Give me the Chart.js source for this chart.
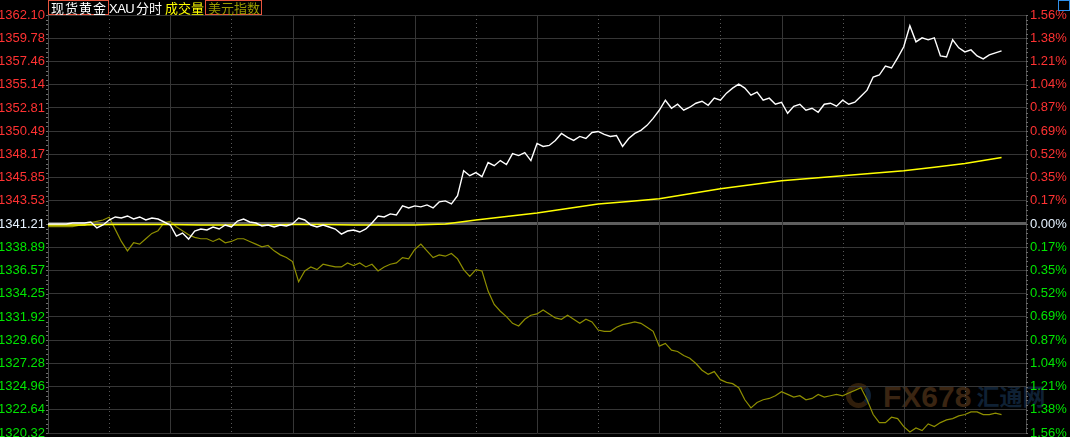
<!DOCTYPE html>
<html>
<head>
<meta charset="utf-8">
<script src="https://cdn.jsdelivr.net/npm/chart.js@4/dist/chart.umd.min.js"></script>
<style>
html,body{margin:0;padding:0;background:#000;}
#wrap{position:relative;width:1070px;height:437px;overflow:hidden;background:#000;}
#c{position:absolute;left:0;top:0;z-index:1;}
.hd{position:absolute;top:0;height:15px;line-height:15px;font-size:13px;font-family:"Noto Sans CJK SC",sans-serif;white-space:nowrap;z-index:2;}
.box{box-sizing:border-box;border:1px solid #e8553e;padding:0 0 0 2px;line-height:13px;}
#wm{position:absolute;left:846px;top:378px;z-index:0;white-space:nowrap;opacity:0.75;}
#wm .fx{font:bold 30px "Liberation Sans Narrow","Liberation Sans",sans-serif;color:#4e3218;}
#wm .cn{font:bold 23px "Noto Sans CJK SC",sans-serif;color:#152c46;margin-left:5px;vertical-align:2px;}
#wm .logo{display:inline-block;width:25px;height:25px;border-radius:50%;border:5px solid #40290f;border-right-color:#152c46;box-sizing:border-box;margin-right:12px;vertical-align:-1px;}
#ico{position:absolute;left:1058px;top:0;width:12px;height:11px;box-sizing:border-box;border:1px solid #2f8fe8;z-index:2;}
</style>
</head>
<body>
<div id="wrap">
  <div id="wm"><span class="logo"></span><span class="fx">FX678</span><span class="cn">汇通网</span></div>
  <canvas id="c" width="1070" height="437"></canvas>
  <div class="hd box" style="left:48px;width:61px;color:#fff;letter-spacing:1px;">现货黄金</div>
  <div class="hd" style="left:109px;top:1px;color:#fff;font-family:'Liberation Sans',sans-serif;letter-spacing:-0.5px;">XAU</div>
  <div class="hd" style="left:136px;color:#fff;">分时</div>
  <div class="hd" style="left:165px;color:#ffff00;">成交量</div>
  <div class="hd box" style="left:205px;width:57px;color:#9a9a00;">美元指数</div>
  <div id="ico"></div>
</div>
<script>
// axis labels, as printed
const priceTicks = ['1362.10','1359.78','1357.46','1355.14','1352.81','1350.49','1348.17','1345.85','1343.53',
  '1341.21','1338.89','1336.57','1334.25','1331.92','1329.60','1327.28','1324.96','1322.64','1320.32'];
const pctTicks = ['1.56%','1.38%','1.21%','1.04%','0.87%','0.69%','0.52%','0.35%','0.17%',
  '0.00%','0.17%','0.35%','0.52%','0.69%','0.87%','1.04%','1.21%','1.38%','1.56%'];
const BASE = 1341.21;
const SLOTS = 160;   // minute slots across the session (one slot ~ 6px)

// spot gold, one value per slot
const goldPrice = [
  1341.21,1341.21,1341.21,1341.21,1341.31,1341.31,1341.31,1341.41,1340.81,1341.11,
  1341.61,1341.91,1341.81,1342.01,1341.71,1341.91,1341.61,1341.81,1341.71,1341.41,
  1341.11,1340.00,1340.30,1339.70,1340.51,1340.71,1340.61,1340.91,1340.71,1341.11,
  1340.91,1341.51,1341.71,1341.41,1341.31,1341.01,1341.11,1340.91,1341.11,1341.01,
  1341.21,1341.81,1341.61,1341.11,1340.91,1341.11,1340.91,1340.71,1340.20,1340.51,
  1340.61,1340.41,1340.71,1341.31,1342.01,1341.91,1342.22,1342.12,1343.02,1342.82,
  1343.02,1342.92,1343.12,1342.82,1343.42,1343.52,1343.22,1344.03,1346.54,1346.04,
  1346.34,1345.94,1347.35,1347.04,1347.55,1347.15,1348.25,1348.05,1348.35,1347.55,
  1349.26,1348.96,1349.06,1349.56,1350.26,1349.86,1349.56,1349.96,1349.76,1350.36,
  1350.46,1350.16,1349.96,1350.06,1348.96,1349.76,1350.26,1350.57,1351.07,1351.77,
  1352.58,1353.58,1352.78,1353.18,1352.58,1352.88,1353.28,1353.48,1353.08,1353.79,
  1353.58,1354.29,1354.79,1355.19,1354.79,1354.09,1354.39,1353.58,1353.79,1353.18,
  1353.38,1352.28,1352.98,1353.18,1352.58,1352.78,1352.38,1353.18,1353.28,1352.98,
  1353.58,1353.18,1353.38,1353.99,1354.59,1355.90,1356.10,1357.00,1356.80,1357.81,
  1358.92,1361.03,1359.42,1359.82,1359.62,1359.82,1358.01,1357.91,1359.62,1358.82,
  1358.41,1358.61,1358.01,1357.71,1358.11,1358.31,1358.51
];

// average price line
const avgSlot = [0,5,10,15,20,25,30,35,40,45,50,55,60,65,70,75,80,85,90,95,100,105,110,115,120,125,130,135,140,145,150,156];
const avgPrice = [1341.11,1341.11,1341.16,1341.16,1341.16,1341.11,1341.11,1341.11,1341.16,1341.16,
  1341.11,1341.11,1341.11,1341.21,1341.61,1341.96,1342.32,1342.77,1343.22,1343.47,
  1343.73,1344.23,1344.73,1345.13,1345.54,1345.79,1346.04,1346.29,1346.54,1346.89,1347.25,1347.85];

// US dollar index, % change, one value per slot
const usdPct = [
  -0.02,-0.02,-0.02,-0.02,-0.02,-0.01,-0.01,0.01,0.02,0.03,
  0.05,-0.04,-0.13,-0.20,-0.14,-0.15,-0.11,-0.07,-0.05,0.01,
  0.02,-0.02,-0.05,-0.08,-0.10,-0.11,-0.11,-0.13,-0.11,-0.14,
  -0.13,-0.11,-0.11,-0.13,-0.15,-0.17,-0.16,-0.20,-0.23,-0.25,
  -0.28,-0.43,-0.35,-0.32,-0.34,-0.30,-0.31,-0.32,-0.32,-0.29,
  -0.31,-0.29,-0.32,-0.30,-0.35,-0.32,-0.30,-0.29,-0.25,-0.26,
  -0.19,-0.15,-0.20,-0.25,-0.23,-0.24,-0.22,-0.26,-0.34,-0.39,
  -0.34,-0.35,-0.50,-0.60,-0.65,-0.69,-0.74,-0.76,-0.71,-0.68,
  -0.67,-0.64,-0.67,-0.70,-0.71,-0.68,-0.71,-0.74,-0.71,-0.73,
  -0.79,-0.80,-0.80,-0.77,-0.75,-0.74,-0.73,-0.74,-0.77,-0.80,
  -0.91,-0.89,-0.94,-0.95,-0.98,-1.00,-1.04,-1.09,-1.12,-1.10,
  -1.16,-1.18,-1.19,-1.22,-1.31,-1.37,-1.33,-1.31,-1.30,-1.28,
  -1.25,-1.27,-1.29,-1.28,-1.31,-1.30,-1.27,-1.29,-1.28,-1.27,
  -1.28,-1.26,-1.24,-1.22,-1.31,-1.42,-1.48,-1.48,-1.44,-1.45,
  -1.51,-1.55,-1.52,-1.54,-1.49,-1.51,-1.48,-1.46,-1.45,-1.43,
  -1.42,-1.40,-1.40,-1.42,-1.42,-1.41,-1.42
];

const PMAX = +priceTicks[0], PMIN = +priceTicks[priceTicks.length-1];
const PCT_MAX = (PMAX - BASE) / BASE * 100;
const MID = 9;
const RED = '#ff3232', GREEN = '#00e600', WHITE = '#e6f2ff';
const lblColor = ctx => ctx.index < MID ? RED : (ctx.index === MID ? WHITE : GREEN);

// vertical grid (solid / dotted alternating) + small minor ticks on the axes
const gridPlugin = {
  id: 'quoteGrid',
  beforeDatasetsDraw(chart){
    const {ctx, chartArea: a, scales} = chart;
    ctx.save();
    ctx.lineWidth = 1;
    for(let s = 10; s < SLOTS; s += 10){
      const x = Math.round(scales.x.getPixelForValue(s)) + 0.5;
      ctx.beginPath();
      if(s % 20 === 0){ ctx.setLineDash([]); ctx.strokeStyle = '#363636'; }
      else { ctx.setLineDash([1,3]); ctx.strokeStyle = '#5a5a5a'; }
      ctx.moveTo(x, a.top); ctx.lineTo(x, a.bottom); ctx.stroke();
    }
    ctx.setLineDash([]);
    ctx.strokeStyle = '#707070';
    const step = (a.bottom - a.top) / (priceTicks.length - 1) / 5;
    for(let y = a.top; y <= a.bottom + 0.5; y += step){
      const yy = Math.round(y) + 0.5;
      ctx.beginPath(); ctx.moveTo(a.left - 2, yy); ctx.lineTo(a.left, yy); ctx.stroke();
      ctx.beginPath(); ctx.moveTo(a.right, yy); ctx.lineTo(a.right + 2, yy); ctx.stroke();
    }
    ctx.restore();
  }
};

new Chart(document.getElementById('c').getContext('2d'), {
  type: 'line',
  data: {
    datasets: [
      { label: '现货黄金', data: goldPrice.map((v,i)=>({x:i, y:v})), yAxisID: 'y',
        borderColor: '#ffffff', borderWidth: 1.4, pointRadius: 0, tension: 0 },
      { label: '均价', data: avgSlot.map((s,i)=>({x:s, y:avgPrice[i]})), yAxisID: 'y',
        borderColor: '#ffff00', borderWidth: 1.5, pointRadius: 0, tension: 0 },
      { label: '美元指数', data: usdPct.map((v,i)=>({x:i, y:v})), yAxisID: 'y1',
        borderColor: '#8f8f00', borderWidth: 1.2, pointRadius: 0, tension: 0 }
    ]
  },
  options: {
    responsive: false, animation: false, devicePixelRatio: 1,
    layout: { padding: { top: 15, bottom: 4, left: 0, right: 0 } },
    plugins: { legend: { display: false }, tooltip: { enabled: false } },
    scales: {
      x: { type: 'linear', min: 0, max: SLOTS, display: false },
      y: {
        position: 'left', min: PMIN, max: PMAX,
        afterBuildTicks: s => { s.ticks = priceTicks.map(t => ({ value: +t })); },
        afterFit: s => { s.width = 48; s.paddingTop = 0; s.paddingBottom = 0; },
        ticks: { callback: (v, i) => priceTicks[i], color: lblColor, padding: 3,
          font: { family: 'Liberation Sans, Arial, sans-serif', size: 13 } },
        grid: { drawTicks: false,
          color: ctx => ctx.index === MID ? '#5e5e5e' : '#363636',
          lineWidth: ctx => ctx.index === MID ? 3 : 1 },
        border: { color: '#4a4a4a' }
      },
      y1: {
        position: 'right', min: -PCT_MAX, max: PCT_MAX,
        afterBuildTicks: s => { s.ticks = pctTicks.map((t, i) => ({ value: PCT_MAX - i * PCT_MAX / MID })); },
        afterFit: s => { s.width = 44; s.paddingTop = 0; s.paddingBottom = 0; },
        ticks: { callback: (v, i) => pctTicks[i], color: lblColor, padding: 4,
          font: { family: 'Liberation Sans, Arial, sans-serif', size: 13 } },
        grid: { drawOnChartArea: false, drawTicks: false },
        border: { color: '#4a4a4a' }
      }
    }
  },
  plugins: [gridPlugin]
});
</script>
</body>
</html>
